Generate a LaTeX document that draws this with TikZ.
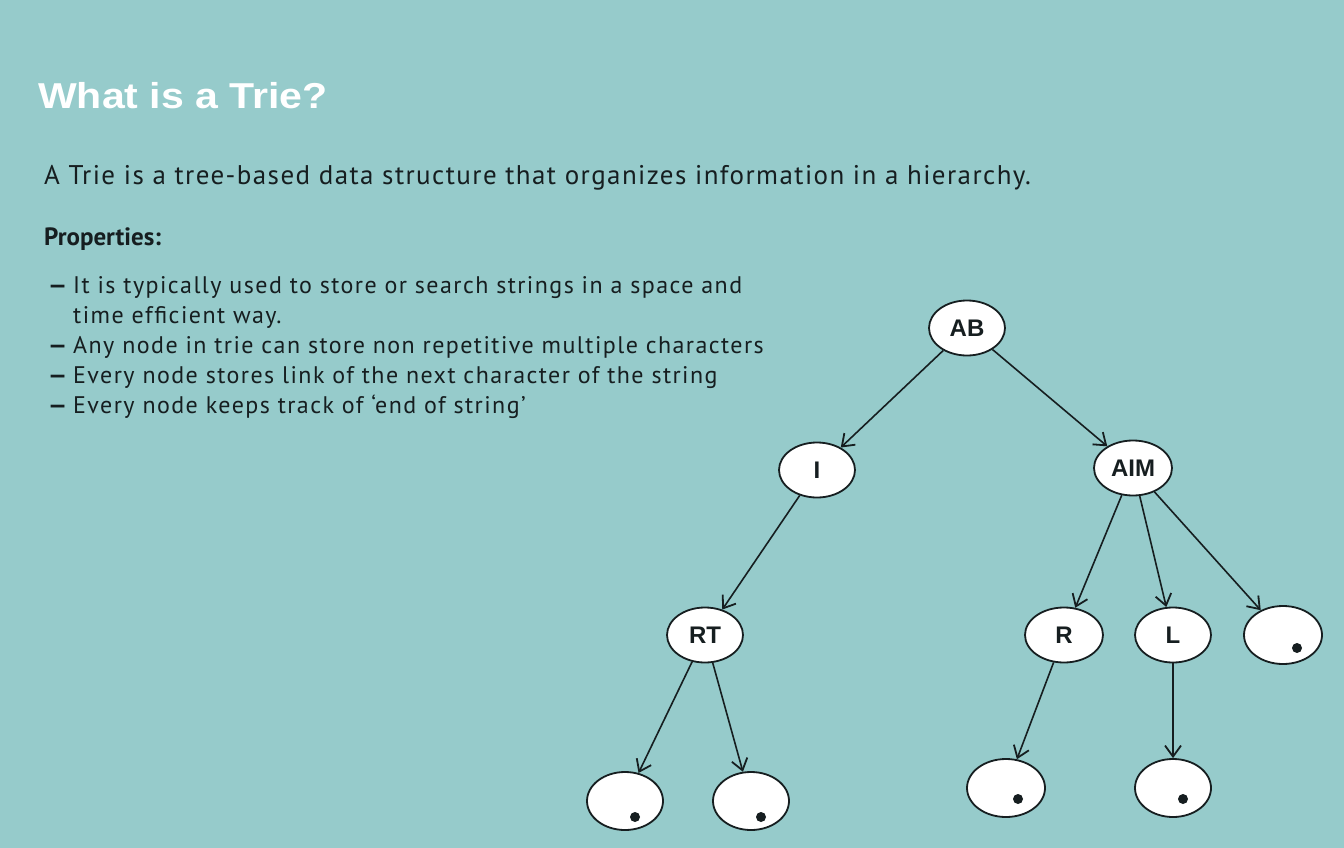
\documentclass[tikz,border=0pt]{standalone}
\usepackage{fontspec}
\setmainfont{PT Sans}
\newfontfamily\headfont{Liberation Sans}
\newfontfamily\widefont[LetterSpace=6]{PT Sans}
\newfontfamily\introfont[LetterSpace=5.3]{PT Sans}
\usetikzlibrary{arrows.meta,shapes.geometric}
\definecolor{slidebg}{RGB}{150,203,203}
\definecolor{ink}{RGB}{22,30,32}
\tikzset{
  trienode/.style={ellipse, draw=ink, line width=1.8pt, fill=white,
    minimum width=76pt, minimum height=55pt, inner sep=0pt,
    font=\headfont\bfseries\fontsize{24}{24}\selectfont, text=ink},
  endnode/.style={trienode, minimum height=58pt},
  link/.style={draw=ink, line width=1.6pt, -{Straight Barb[length=11pt,width=16pt,line width=1.8pt]}},
  bodytext/.style={anchor=base west, inner sep=0pt, text=ink},
  itemtext/.style={bodytext, font=\widefont\fontsize{24}{24}\selectfont},
  endmark/.style={fill=ink}
}
\begin{document}
\begin{tikzpicture}[x=1pt,y=-1pt]
\fill[slidebg] (0,0) rectangle (1344,848);
\useasboundingbox (0,0) rectangle (1344,848);

% heading and text
\node[bodytext, text=white, font=\headfont\bfseries\fontsize{36}{36}\selectfont, xscale=1.14] (title) at (38,109) {What is a Trie?};
\node[bodytext, font=\introfont\fontsize{27}{27}\selectfont] (intro) at (44,185) {A Trie is a tree-based data structure that organizes information in a hierarchy.};
\node[bodytext, font=\bfseries\fontsize{25}{25}\selectfont] (props) at (44,245) {Properties:};
\foreach \y/\t [count=\i] in {293/{It is typically used to store or search strings in a space and},
    353/{Any node in trie can store non repetitive multiple characters},
    383/{Every node stores link of the next character of the string},
    413/{Every node keeps track of ‘end of string’}} {
  \node[bodytext, font=\bfseries\fontsize{24}{24}\selectfont, xscale=1.3] (dash\i) at (47,\y) {–};
  \node[itemtext] (item\i) at (73,\y) {\t};
}
\node[itemtext] (item1b) at (73,323) {time efficient way.};

% trie
\node[trienode] (ab)  at (967,328) {AB};
\node[trienode] (i)   at (817,470) {I};
\node[trienode, minimum width=78pt] (aim) at (1133,468) {AIM};
\node[trienode] (rt)  at (705,635) {RT};
\node[trienode, minimum width=78pt] (r) at (1064,635) {R};
\node[trienode] (l)   at (1173,635) {L};
\node[endnode, minimum width=78pt] (e0) at (1283,635) {};
\node[endnode] (e1) at (625,801) {};
\node[endnode] (e2) at (751,801) {};
\node[endnode, minimum width=78pt] (e3) at (1006,788) {};
\node[endnode] (e4) at (1173,788) {};

% end-of-string marks
\fill[endmark] ([shift={(14,13)}]e0.center) circle (5);
\fill[endmark] ([shift={(10,16)}]e1.center) circle (5);
\fill[endmark] ([shift={(10,16)}]e2.center) circle (5);
\fill[endmark] ([shift={(12,11)}]e3.center) circle (5);
\fill[endmark] ([shift={(10,11)}]e4.center) circle (5);

% links
\draw[link] (ab) -- (i);
\draw[link] (ab) -- (aim);
\draw[link] (i) -- (rt);
\draw[link] (aim) -- (r);
\draw[link] (aim) -- (l);
\draw[link] (aim) -- (e0);
\draw[link] (rt) -- (e1);
\draw[link] (rt) -- (e2);
\draw[link] (r) -- (e3);
\draw[link] (l) -- (e4);
\end{tikzpicture}
\end{document}
